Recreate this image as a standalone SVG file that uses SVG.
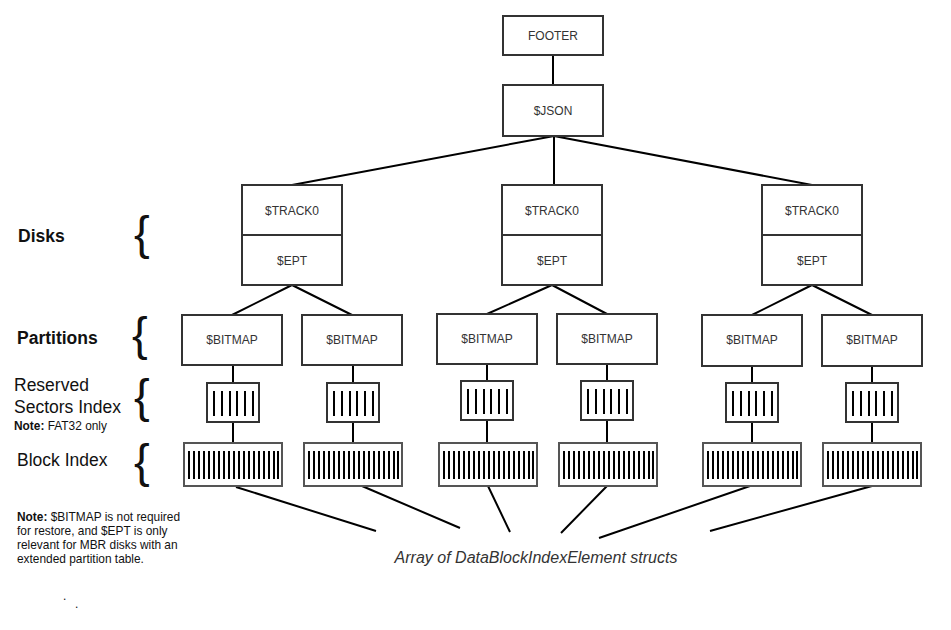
<svg xmlns="http://www.w3.org/2000/svg" width="951" height="630" viewBox="0 0 951 630">
<style>
.box{fill:#fff;stroke:#333;stroke-width:2}
.blk{fill:#fff;stroke:#555;stroke-width:2}
.bt{font-family:"Liberation Sans",Arial,sans-serif;font-size:12px;fill:#333;text-anchor:middle}
.lbl{font-family:"Liberation Sans",Arial,sans-serif;font-size:17.5px;fill:#111}
.b{font-weight:bold}
.sm{font-family:"Liberation Sans",Arial,sans-serif;font-size:11.9px;fill:#111}
.br{font-family:"Liberation Sans",Arial,sans-serif;font-size:47px;fill:#111}
.bar{stroke:#000;stroke-width:2}
.cn{stroke:#000;stroke-width:2;fill:none}
</style>
<defs>
<g id="small">
<rect class="box" x="0" y="0" width="52" height="39"/>
<path class="bar" d="M7 8V33M15 8V33M23 8V33M30 8V33M38 8V33M46 8V33"/>
</g>
<g id="block">
<rect class="blk" x="0" y="0" width="98" height="43"/>
<path class="bar" d="M5 8V36M10 8V36M15 8V36M20 8V36M25 8V36M30 8V36M35 8V36M40 8V36M45 8V36M50 8V36M55 8V36M60 8V36M65 8V36M70 8V36M75 8V36M80 8V36M85 8V36M90 8V36M94 8V36"/>
</g>
</defs>
<rect width="951" height="630" fill="#fff"/>
<g id="connectors">
<path class="cn" d="M553 55V85"/>
<path class="cn" d="M554 136L292 185M554 136V185M554 136L812 185"/>
<path class="cn" d="M292 285L232 315M292 285L352 315"/>
<path class="cn" d="M552 285L487 314M552 285L607 314"/>
<path class="cn" d="M812 285L752 315M812 285L872 315"/>
<path class="cn" d="M233 365V383M233 422V443M353 365V383M353 422V443"/>
<path class="cn" d="M487 364V381M487 420V443M607 364V381M607 420V443"/>
<path class="cn" d="M752 366V383M752 422V443M872 366V383M872 422V443"/>
<path class="cn" d="M236 487L376 531M362 486L460 528M488 486L510 532M607 486L561 533M750 486L599 538M872 486L710 531"/>
</g>
<g id="footer"><rect class="box" x="503" y="16" width="100" height="39"/><text class="bt" x="553" y="40">FOOTER</text></g>
<g id="json"><rect class="box" x="503" y="85" width="100" height="51"/><text class="bt" x="553" y="115">$JSON</text></g>
<g id="disk1"><rect class="box" x="242" y="185" width="100" height="50"/><text class="bt" x="292" y="215">$TRACK0</text><rect class="box" x="242" y="235" width="100" height="50"/><text class="bt" x="292" y="265">$EPT</text></g>
<g id="disk2"><rect class="box" x="502" y="185" width="100" height="50"/><text class="bt" x="552" y="215">$TRACK0</text><rect class="box" x="502" y="235" width="100" height="50"/><text class="bt" x="552" y="265">$EPT</text></g>
<g id="disk3"><rect class="box" x="762" y="185" width="100" height="50"/><text class="bt" x="812" y="215">$TRACK0</text><rect class="box" x="762" y="235" width="100" height="50"/><text class="bt" x="812" y="265">$EPT</text></g>
<g id="part1"><rect class="box" x="182" y="315" width="100" height="50"/><text class="bt" x="232" y="344">$BITMAP</text></g>
<g id="part2"><rect class="box" x="302" y="315" width="100" height="50"/><text class="bt" x="352" y="344">$BITMAP</text></g>
<g id="part3"><rect class="box" x="437" y="314" width="100" height="50"/><text class="bt" x="487" y="343">$BITMAP</text></g>
<g id="part4"><rect class="box" x="557" y="314" width="100" height="50"/><text class="bt" x="607" y="343">$BITMAP</text></g>
<g id="part5"><rect class="box" x="702" y="315" width="100" height="51"/><text class="bt" x="752" y="344">$BITMAP</text></g>
<g id="part6"><rect class="box" x="822" y="315" width="100" height="51"/><text class="bt" x="872" y="344">$BITMAP</text></g>
<g id="rsi1"><use href="#small" x="207" y="383"/></g>
<g id="rsi2"><use href="#small" x="327" y="383"/></g>
<g id="rsi3"><use href="#small" x="461" y="381"/></g>
<g id="rsi4"><use href="#small" x="581" y="381"/></g>
<g id="rsi5"><use href="#small" x="726" y="383"/></g>
<g id="rsi6"><use href="#small" x="846" y="383"/></g>
<g id="bi1"><use href="#block" x="184" y="443"/></g>
<g id="bi2"><use href="#block" x="304" y="443"/></g>
<g id="bi3"><use href="#block" x="439" y="443"/></g>
<g id="bi4"><use href="#block" x="559" y="443"/></g>
<g id="bi5"><use href="#block" x="703" y="443"/></g>
<g id="bi6"><use href="#block" x="823" y="443"/></g>
<g id="labels">
<text class="lbl b" x="18" y="242">Disks</text>
<text class="lbl b" x="17" y="344">Partitions</text>
<text class="lbl" x="14" y="391">Reserved</text>
<text class="lbl" x="14" y="413">Sectors Index</text>
<text class="sm" x="14" y="430"><tspan font-weight="bold">Note:</tspan> FAT32 only</text>
<text class="lbl" x="17" y="466">Block Index</text>
<text class="br" x="134" y="249">{</text>
<text class="br" x="132" y="350">{</text>
<text class="br" x="134" y="412">{</text>
<text class="br" x="134" y="477">{</text>
<text class="sm" x="17" y="521"><tspan font-weight="bold">Note:</tspan> $BITMAP is not required</text>
<text class="sm" x="17" y="535">for restore, and $EPT is only</text>
<text class="sm" x="17" y="549">relevant for MBR disks with an</text>
<text class="sm" x="17" y="563">extended partition table.</text>
<text class="sm" x="63" y="600">.</text>
<text class="sm" x="75" y="608">.</text>
<text x="536" y="563" font-family="'Liberation Sans',Arial,sans-serif" font-size="16" font-style="italic" fill="#333" text-anchor="middle">Array of DataBlockIndexElement structs</text>
</g>
</svg>
